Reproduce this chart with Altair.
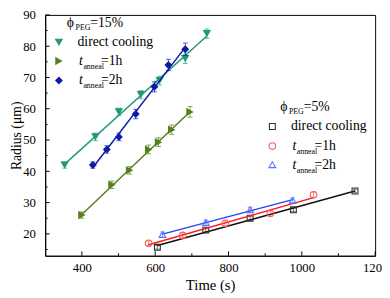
import altair as alt
import pandas as pd

# ---- data ----
t_dc15 = [353, 437, 501, 561, 612, 682, 741]
r_dc15 = [42.0, 51.0, 59.0, 64.5, 69.0, 76.0, 84.0]
e_dc15 = [1.0, 1.2, 1.2, 1.3, 1.4, 1.5, 1.5]

t_a1_15 = [400, 482, 530, 582, 609, 645, 695]
r_a1_15 = [26.0, 35.7, 40.3, 47.0, 49.3, 53.3, 59.0]
e_a1_15 = [1.0, 1.2, 1.2, 1.4, 1.4, 1.5, 1.7]

t_a2_15 = [430, 468, 501, 547, 598, 636, 682]
r_a2_15 = [42.0, 47.0, 51.0, 58.3, 67.0, 74.0, 79.0]
e_a2_15 = [1.0, 1.2, 1.2, 1.5, 1.6, 1.8, 2.0]

t_dc5 = [606, 738, 859, 977, 1145]
r_dc5 = [15.7, 21.2, 25.0, 27.7, 33.7]
e_dc5 = [0.6, 0.6, 0.6, 0.6, 0.6]

t_a1_5 = [582, 675, 791, 914, 1032]
r_a1_5 = [17.0, 19.5, 23.4, 26.5, 32.5]
e_a1_5 = [0.8, 0.8, 0.8, 0.8, 0.8]

t_a2_5 = [620, 738, 859, 975]
r_a2_5 = [19.8, 23.6, 27.7, 30.7]
e_a2_5 = [0.8, 0.8, 0.8, 0.8]

x_major = [400, 600, 800, 1000, 1200]
x_minor = [500, 700, 900, 1100]
y_major = [20, 30, 40, 50, 60, 70, 80, 90]
y_minor = [15, 25, 35, 45, 55, 65, 75, 85]

FONT = "Liberation Serif"
W, H = 337, 246

xs = alt.Scale(domain=[300, 1200], nice=False, zero=False)
ys = alt.Scale(domain=[13, 90], nice=False, zero=False)
xaxis = alt.Axis(title="Time (s)", values=x_major, format="d", tickSize=0, labelPadding=6,
                 labelFlush=False, labelOverlap=False, labelBound=False,
                 titlePadding=3, grid=False, domainColor="black",
                 labelFont=FONT, titleFont=FONT, labelFontSize=13, titleFontSize=15,
                 labelColor="black", titleColor="black", titleFontWeight="normal")
yaxis = alt.Axis(title="Radius (μm)", values=y_major, format="d", tickSize=0, labelPadding=10,
                 grid=False, domainColor="black", titleX=-25.5, titleBaseline="alphabetic",
                 labelFont=FONT, titleFont=FONT, labelFontSize=13, titleFontSize=14,
                 labelColor="black", titleColor="black", titleFontWeight="normal")

X = alt.X("t:Q", scale=xs, axis=xaxis)
Y = alt.Y("r:Q", scale=ys, axis=yaxis)

series = [
    (t_dc15, r_dc15, e_dc15, "#1f9b78", "#1f9b78", "triangle-down", True, 75),
    (t_a1_15, r_a1_15, e_a1_15, "#55801a", "#55801a", "triangle-right", True, 75),
    (t_a2_15, r_a2_15, e_a2_15, "#0c1aa8", "#0c1aa8", "diamond", True, 65),
    (t_dc5, r_dc5, e_dc5, "#111111", "#333333", "square", False, 36),
    (t_a1_5, r_a1_5, e_a1_5, "#ff1a1a", "#ff5a5a", "circle", False, 45),
    (t_a2_5, r_a2_5, e_a2_5, "#2346f5", "#5572ff", "triangle-up", False, 48),
]

layers = []
for ts, rs, es, lc, pc, shape, filled, size in series:
    df = pd.DataFrame({"t": ts, "r": rs, "e": es})
    base = alt.Chart(df).transform_calculate(lo="datum.r - datum.e", hi="datum.r + datum.e")
    layers.append(base.mark_rule(color=pc, opacity=0.7, strokeWidth=1).encode(
        x=X, y=alt.Y("lo:Q", scale=ys, axis=yaxis), y2="hi:Q"))
    layers.append(base.mark_tick(color=pc, opacity=0.7, orient="horizontal", size=5, thickness=1).encode(
        x=X, y=alt.Y("hi:Q", scale=ys, axis=yaxis)))
    layers.append(base.mark_tick(color=pc, opacity=0.7, orient="horizontal", size=5, thickness=1).encode(
        x=X, y=alt.Y("lo:Q", scale=ys, axis=yaxis)))
    layers.append(alt.Chart(df).transform_regression("t", "r").mark_line(color=lc, strokeWidth=1.5).encode(
        x=X, y=Y))
    if filled:
        pm = alt.Chart(df).mark_point(shape=shape, filled=True, color=pc, size=size, opacity=1)
    else:
        pm = alt.Chart(df).mark_point(shape=shape, filled=False, color=pc, size=size, strokeWidth=1.1, opacity=1)
    layers.append(pm.encode(x=X, y=Y))

# inward ticks
layers.append(alt.Chart(pd.DataFrame({"t": x_major})).mark_rule(color="black").encode(
    x=X, y=alt.value(H), y2=alt.value(H - 4.5)))
layers.append(alt.Chart(pd.DataFrame({"t": x_minor})).mark_rule(color="black").encode(
    x=X, y=alt.value(H), y2=alt.value(H - 2.5)))
layers.append(alt.Chart(pd.DataFrame({"r": y_major})).mark_rule(color="black").encode(
    y=Y, x=alt.value(0), x2=alt.value(4.5)))
layers.append(alt.Chart(pd.DataFrame({"r": y_minor})).mark_rule(color="black").encode(
    y=Y, x=alt.value(0), x2=alt.value(2.5)))

one = pd.DataFrame({"a": [0]})


def txt(s, x, y, size=14, italic=False):
    return alt.Chart(one).mark_text(text=s, font=FONT, fontSize=size, align="left", baseline="middle",
                                    fontStyle="italic" if italic else "normal", color="black").encode(
        x=alt.value(x), y=alt.value(y))


def mk(shape, color, filled, size, x, y):
    return alt.Chart(one).mark_point(shape=shape, color=color, filled=filled, size=size, opacity=1,
                                     strokeWidth=1.1).encode(x=alt.value(x), y=alt.value(y))


def legend(title_pct, tx, mx, rows, items):
    out = []
    out.append(txt("ϕ", tx - 11, rows[0], 14))
    out.append(txt("PEG", tx - 2, rows[0] + 5, 8))
    out.append(txt(title_pct, tx + 13, rows[0], 14))
    for i, (shape, color, filled, size, label) in enumerate(items):
        yy = rows[i + 1]
        out.append(mk(shape, color, filled, size, mx, yy))
        if label is None:
            out.append(txt("direct cooling", tx, yy, 14))
        else:
            out.append(txt("t", tx + 1.5, yy, 14, italic=True))
            out.append(txt("anneal", tx + 6, yy + 6, 8))
            out.append(txt(label, tx + 24, yy, 14))
    return out


layers += legend("=15%", 33, 14, [8, 28, 47, 67], [
    ("triangle-down", "#1f9b78", True, 75, None),
    ("triangle-right", "#55801a", True, 75, "=1h"),
    ("diamond", "#0c1aa8", True, 65, "=2h"),
])
layers += legend("=5%", 251, 232, [94, 114, 134, 153], [
    ("square", "#333333", False, 36, None),
    ("circle", "#ff5a5a", False, 45, "=1h"),
    ("triangle-up", "#5572ff", False, 48, "=2h"),
])

chart = alt.layer(*layers).properties(
    width=W, height=H,
    background="white",
    autosize=alt.AutoSizeParams(type="none"),
    padding={"left": 38, "top": 4, "right": 7, "bottom": 36},
).configure(font=FONT).configure_text(font=FONT).configure_view(stroke="black", strokeWidth=1)

chart.save("out.html", embed_options={"renderer": "svg", "actions": False})
